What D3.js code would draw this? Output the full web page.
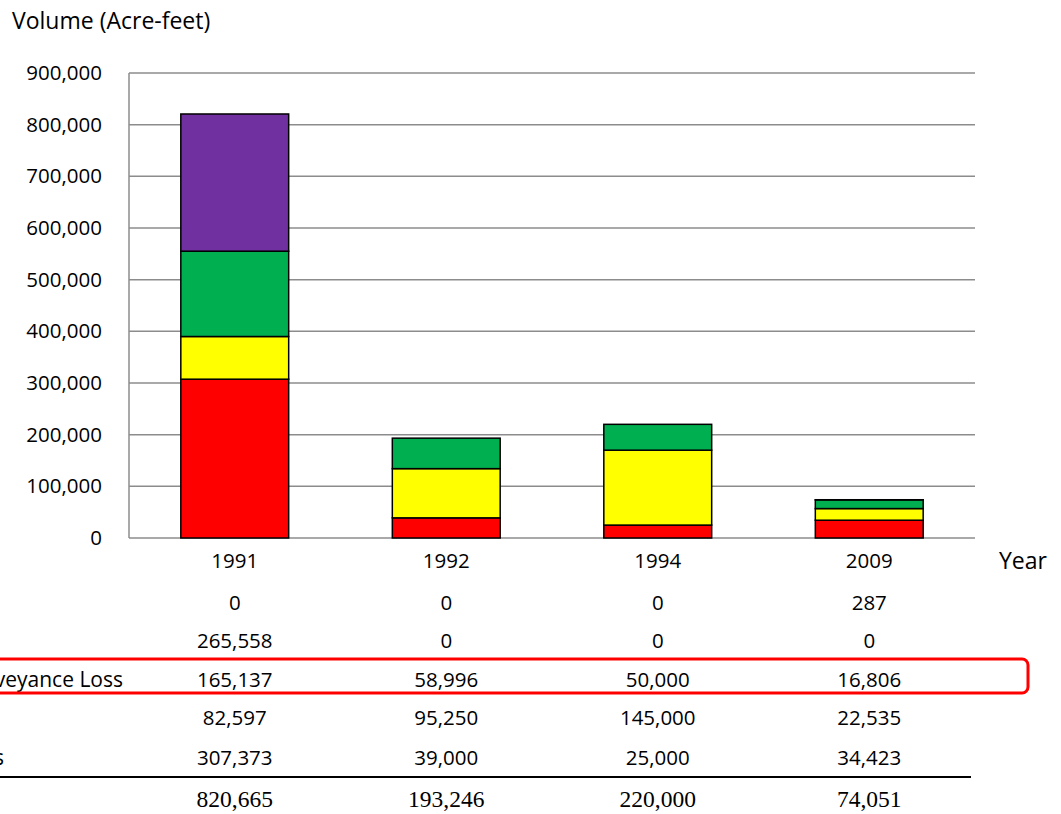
<!DOCTYPE html>
<html>
<head>
<meta charset="utf-8">
<script src="https://cdn.jsdelivr.net/npm/d3@7"></script>
<style>
  body { margin: 0; background: #fff; }
  svg { display: block; }
  text { font-family: "Open Sans", "Liberation Sans", sans-serif; fill: #000; }
</style>
</head>
<body>
<svg id="chart" width="1061" height="814"></svg>
<script>
// Chart data
const years = ['1991', '1992', '1994', '2009'];
const seriesNames = ['Other', 'Water Bank Purchases', 'Carriage Water / Conveyance Loss', 'Groundwater Substitution', 'Crop Idling Transfers'];
const otherVals = [0, 0, 0, 287];
const bankVals = [265558, 0, 0, 0];
const lossVals = [165137, 58996, 50000, 16806];
const groundwaterVals = [82597, 95250, 145000, 22535];
const idlingVals = [307373, 39000, 25000, 34423];
const totals = [820665, 193246, 220000, 74051];
const yTicks = [0, 100000, 200000, 300000, 400000, 500000, 600000, 700000, 800000, 900000];

const seriesColors = ['#000000', '#7030A0', '#00B050', '#FFFF00', '#FF0000'];

const svg = d3.select('#chart');
const margin = { left: 129, right: 86, top: 73, bottom: 276 };
const width = 1061;
const height = 814;

// rows as in the table (top to bottom), stacking goes bottom-up
const rows = [otherVals, bankVals, lossVals, groundwaterVals, idlingVals];
const data = years.map((yr, i) => {
    const d = { year: yr };
    seriesNames.forEach((s, k) => { d[s] = rows[k][i]; });
    return d;
});

const x = d3.scaleBand()
    .domain(years)
    .range([margin.left, width - margin.right])
    .paddingInner(0.49)
    .paddingOuter(0.245);

const y = d3.scaleLinear()
    .domain([0, 900000])
    .range([height - margin.bottom, margin.top]);

const numSize = 20.5;
const labelSize = 23;

// Gridlines
svg.append('g')
    .selectAll('line')
    .data(yTicks)
    .join('line')
    .attr('x1', margin.left)
    .attr('x2', width - margin.right)
    .attr('y1', d => y(d))
    .attr('y2', d => y(d))
    .attr('stroke', '#8c8c8c')
    .attr('stroke-width', 1.5);

// Left axis line
svg.append('line')
    .attr('x1', margin.left).attr('x2', margin.left)
    .attr('y1', y(900000)).attr('y2', y(0))
    .attr('stroke', '#8c8c8c')
    .attr('stroke-width', 1.5);

// Y axis labels
const fmt = d3.format(',');
const yAxis = d3.axisLeft(y)
    .tickValues(yTicks)
    .tickFormat(fmt)
    .tickSize(0)
    .tickPadding(27);
const yg = svg.append('g')
    .attr('transform', `translate(${margin.left},0)`)
    .call(yAxis);
yg.select('.domain').remove();
yg.selectAll('text')
    .attr('font-size', numSize)
    .attr('font-family', '"Open Sans", sans-serif')
    .attr('fill', '#000');

// Stacked bars
const stackOrder = seriesNames.slice().reverse();
const stack = d3.stack().keys(stackOrder);
const stacked = stack(data);
const colorOf = d3.scaleOrdinal().domain(seriesNames).range(seriesColors);

svg.append('g')
    .selectAll('g')
    .data(stacked)
    .join('g')
    .attr('fill', d => colorOf(d.key))
    .selectAll('rect')
    .data(d => d.filter(p => p[1] - p[0] > 0))
    .join('rect')
    .attr('x', d => x(d.data.year))
    .attr('width', x.bandwidth())
    .attr('y', d => y(d[1]))
    .attr('height', d => y(d[0]) - y(d[1]))
    .attr('stroke', '#000')
    .attr('stroke-width', 1.5);

// X axis labels
svg.append('g')
    .selectAll('text')
    .data(years)
    .join('text')
    .attr('x', d => x(d) + x.bandwidth() / 2)
    .attr('y', 568)
    .attr('text-anchor', 'middle')
    .attr('font-size', numSize)
    .text(d => d);

svg.append('text')
    .attr('x', 999)
    .attr('y', 569)
    .attr('font-size', labelSize)
    .text('Year');

// Axis title
svg.append('text')
    .attr('x', 12)
    .attr('y', 29)
    .attr('font-size', labelSize)
    .text('Volume (Acre-feet)');

// Data table
const rowY = [610, 648, 687, 725, 765];

// row labels: only the tail ends of two of them fall inside the picture
svg.append('text')
    .attr('x', 123)
    .attr('y', rowY[2])
    .attr('text-anchor', 'end')
    .attr('font-size', 21)
    .text(seriesNames[2]);

svg.append('text')
    .attr('x', 4)
    .attr('y', rowY[4])
    .attr('text-anchor', 'end')
    .attr('font-size', 21)
    .attr('fill', '#aaa')
    .text(seriesNames[4]);

rows.forEach((vals, k) => {
    svg.append('g')
        .selectAll('text')
        .data(vals)
        .join('text')
        .attr('x', (d, i) => x(years[i]) + x.bandwidth() / 2)
        .attr('y', rowY[k])
        .attr('text-anchor', 'middle')
        .attr('font-size', numSize)
        .text(d => fmt(d));
});

// Highlight box around conveyance loss row
svg.append('rect')
    .attr('x', -10)
    .attr('y', 659)
    .attr('width', 1038)
    .attr('height', 34)
    .attr('rx', 6)
    .attr('fill', 'none')
    .attr('stroke', '#ff0000')
    .attr('stroke-width', 3);

// Total line and totals row
svg.append('line')
    .attr('x1', 0).attr('x2', 971)
    .attr('y1', 777).attr('y2', 777)
    .attr('stroke', '#000')
    .attr('stroke-width', 2);

svg.append('g')
    .selectAll('text')
    .data(totals)
    .join('text')
    .attr('x', (d, i) => x(years[i]) + x.bandwidth() / 2)
    .attr('y', 807)
    .attr('text-anchor', 'middle')
    .attr('font-size', 23.5)
    .style('font-family', '"Liberation Serif", "Times New Roman", serif')
    .text(d => fmt(d));
</script>
</body>
</html>
